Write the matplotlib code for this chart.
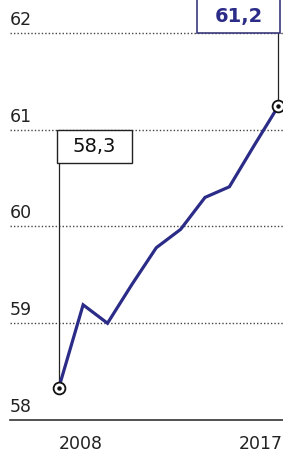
import matplotlib
matplotlib.use("Agg")
import matplotlib.pyplot as plt
from matplotlib.patches import Rectangle

years = [2008, 2009, 2010, 2011, 2012, 2013, 2014, 2015, 2016, 2017]
values = [58.33, 59.19, 59.0, 59.4, 59.78, 59.97, 60.3, 60.41, 60.83, 61.24]
y_ticks = [58, 59, 60, 61, 62]
first_label = "58,3"
last_label = "61,2"

line_col = "#2b2b88"

fig = plt.figure(figsize=(2.83, 4.53), dpi=100)
ax = fig.add_axes([10 / 283, 33 / 453, 273 / 283, 420 / 453])
ax.set_xlim(2006.0, 2017.2)
ax.set_ylim(58, 62.34)
ax.axis("off")

# grid lines and y labels (written above each line)
for v in y_ticks:
    if v == y_ticks[0]:
        ax.axhline(v, color="#333333", lw=1.2, clip_on=False)
    else:
        ax.axhline(v, color="#444444", lw=1, ls=(0, (1, 1.5)))
    ax.annotate(str(v), xy=(0, v), xycoords=("axes fraction", "data"),
                xytext=(0, 4), textcoords="offset pixels",
                ha="left", va="bottom", fontsize=12.5, color="#222222")

# the series
ax.plot(years, values, color=line_col, lw=2.3, solid_joinstyle="miter", zorder=3)

# connector lines from boxes to end points
ax.plot([years[0], years[0]], [values[0], 60.66], color="#222222", lw=0.9, zorder=2)
ax.plot([years[-1], years[-1]], [values[-1], 62], color="#222222", lw=0.9, zorder=2)

# end markers: open circle with a dot
for x, y in [(years[0], values[0]), (years[-1], values[-1])]:
    ax.plot(x, y, "o", ms=8.5, mfc="white", mec="#111111", mew=1.3, zorder=4, clip_on=False)
    ax.plot(x, y, "o", ms=2.2, color="#111111", zorder=5, clip_on=False)

# value boxes
w1 = 75 / 24.33
ax.add_patch(Rectangle((years[0] - 0.08, 60.66), w1, 0.34, fill=True, fc="white",
                       ec="#222222", lw=1, zorder=3))
ax.text(years[0] - 0.08 + w1 / 2, 60.83, first_label, ha="center", va="center",
        fontsize=14, color="#111111", zorder=4)

w2 = 83 / 24.33
ax.add_patch(Rectangle((years[-1] + 0.08 - w2, 62), w2, 0.5, fill=True, fc="white",
                       ec="#3a3a7a", lw=1.2, zorder=3, clip_on=False))
ax.text(years[-1] + 0.08 - w2 / 2, 62.17, last_label, ha="center", va="center",
        fontsize=14, fontweight="bold", color=line_col, zorder=4)

# x labels
ax.text(years[0], 57.85, str(years[0]), ha="left", va="top", fontsize=12.5, color="#222222")
ax.text(2017.2, 57.85, str(years[-1]), ha="right", va="top", fontsize=12.5, color="#222222")

fig.savefig("out.png", dpi=100)
